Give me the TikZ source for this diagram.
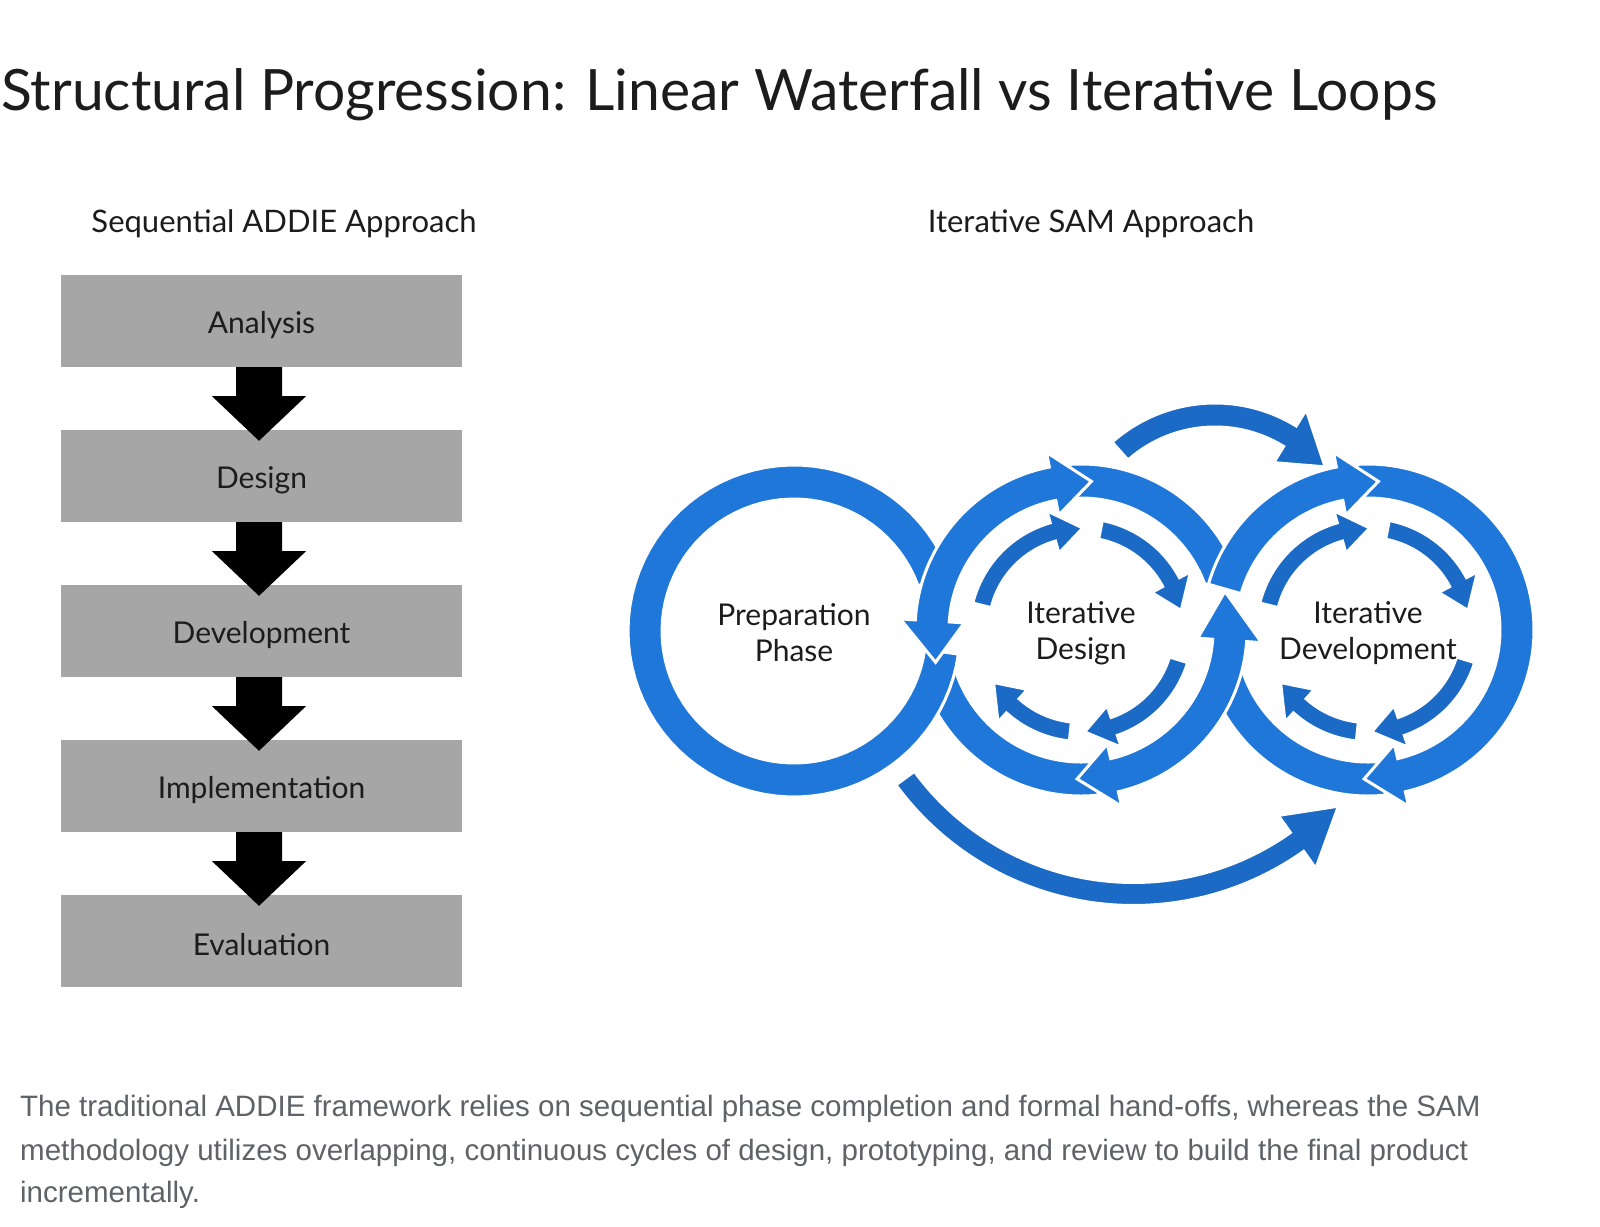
\documentclass[tikz,border=0pt]{standalone}
\usepackage{fontspec}
\setmainfont{Lato}
\newfontfamily\capfont{Liberation Sans}
\usetikzlibrary{calc}
\definecolor{ringblue}{RGB}{31,119,217}
\definecolor{darkblue}{RGB}{27,106,198}
\definecolor{boxgray}{RGB}{166,166,166}
\definecolor{capgray}{RGB}{95,99,104}
\definecolor{inkblack}{RGB}{28,28,30}
% #1 cx, #2 cy, #3 R, #4 half width, #5 t1, #6 t2, #7 start head offset, #8 end head offset, #9 style
\newcommand\RingSeg[9]{%
  \pgfmathsetmacro\hA{ifthenelse(#7>0,\HH,#4)}%
  \pgfmathsetmacro\hB{ifthenelse(#8>0,\HH,#4)}%
  \filldraw[#9] plot[domain=#5:#6,samples=80] ({#1+(#3+#4)*cos(\x)},{#2+(#3+#4)*sin(\x)})
   -- ({#1+(#3+\hB)*cos(#6)},{#2+(#3+\hB)*sin(#6)})
   -- ({#1+#3*cos(#6+#8)},{#2+#3*sin(#6+#8)})
   -- ({#1+(#3-\hB)*cos(#6)},{#2+(#3-\hB)*sin(#6)})
   -- plot[domain=#6:#5,samples=80] ({#1+(#3-#4)*cos(\x)},{#2+(#3-#4)*sin(\x)})
   -- ({#1+(#3-\hA)*cos(#5)},{#2+(#3-\hA)*sin(#5)})
   -- ({#1+#3*cos(#5-#7)},{#2+#3*sin(#5-#7)})
   -- ({#1+(#3+\hA)*cos(#5)},{#2+(#3+\hA)*sin(#5)})
   -- cycle;}
\tikzset{
  stepbox/.style={fill=boxgray, minimum width=401pt, minimum height=92pt, inner sep=0pt},
  boxtext/.style={text=inkblack, font=\fontsize{30}{36}\selectfont, inner sep=0pt},
  flowarrow/.style={fill=black},
  ringseg/.style={fill=ringblue, draw=white, line width=3pt, line join=miter},
  darkseg/.style={fill=darkblue, draw=white, line width=3pt, line join=miter},
  ringlabel/.style={align=center, text=inkblack, font=\fontsize{30}{36}\selectfont, inner sep=0pt},
  subtitle/.style={anchor=base, text=inkblack, font=\fontsize{31}{36}\selectfont, inner sep=0pt},
  captionline/.style={anchor=base west, text=capgray, font=\capfont\fontsize{29.5}{34}\selectfont, inner sep=0pt}
}
\begin{document}
\begin{tikzpicture}[x=1pt,y=-1pt]
\useasboundingbox (0,0) rectangle (1600,1226);
\fill[white] (0,0) rectangle (1600,1226);
% title
\node[anchor=base west, inner sep=0pt, text=inkblack, font=\fontsize{57}{62}\selectfont] (title) at (1,110) {Structural Progression: Linear Waterfall vs Iterative Loops};
% subtitles
\node[subtitle] (sub1) at (284,232) {Sequential ADDIE Approach};
\node[subtitle] (sub2) at (1091,232) {Iterative SAM Approach};
% ADDIE boxes
\node[stepbox] (an) at (261.5,321) {};
\node[stepbox] (de) at (261.5,476) {};
\node[stepbox] (dv) at (261.5,631) {};
\node[stepbox] (im) at (261.5,786) {};
\node[stepbox] (ev) at (261.5,941) {};
\node[boxtext] (tan) at ($(an.center)+(0,4)$) {Analysis};
\node[boxtext] (tde) at ($(de.center)+(0,4)$) {Design};
\node[boxtext] (tdv) at ($(dv.center)+(0,4)$) {Development};
\node[boxtext] (tim) at ($(im.center)+(0,4)$) {Implementation};
\node[boxtext] (tev) at ($(ev.center)+(0,4)$) {Evaluation};
\foreach \a/\b in {an/de,de/dv,dv/im,im/ev}{
  \fill[flowarrow] ($(\a.south)+(-25.5,0)$) -- ($(\a.south)+(20.5,0)$) -- ($(\a.south)+(20.5,29)$)
    -- ($(\a.south)+(44.5,29)$) -- ($(\b.north)+(-2.5,11)$) -- ($(\a.south)+(-49.5,29)$)
    -- ($(\a.south)+(-25.5,29)$) -- cycle;
}
% SAM rings
\def\HH{32}
\RingSeg{1081}{630}{149}{17}{84}{162}{0}{0}{ringseg}      % D bottom-left
\RingSeg{794}{631}{149}{17}{8}{340}{0}{0}{ringseg}        % preparation ring
\RingSeg{1081}{630}{149}{17}{266}{340}{0}{0}{ringseg}     % D top-right
\RingSeg{1368}{630}{149}{17}{84}{165}{0}{0}{ringseg}      % Dev bottom-left
\RingSeg{1368}{630}{149}{17}{266}{437}{0}{14.5}{ringseg}  % Dev right
\RingSeg{1368}{630}{149}{17}{196}{259}{0}{15}{ringseg}    % Dev top-left
\RingSeg{1081}{630}{149}{17}{183.5}{259}{16}{15}{ringseg} % D top-left
\RingSeg{1081}{630}{149}{17}{4}{77}{19}{14.5}{ringseg}    % D bottom-right
% inner cycles
\def\HH{22}
\foreach \c in {1081,1368}{
  \RingSeg{\c}{630}{102}{9.5}{194}{254}{0}{17}{darkseg}
  \RingSeg{\c}{630}{102}{9.5}{281}{332}{0}{17}{darkseg}
  \RingSeg{\c}{630}{102}{9.5}{17}{71}{0}{17}{darkseg}
  \RingSeg{\c}{630}{102}{9.5}{96}{132}{0}{17}{darkseg}
}
% top and bottom bypass arrows
\def\HH{31}
\RingSeg{1215}{558}{143}{12}{228.4}{301.6}{0}{18.8}{darkseg}
\def\HH{32.5}
\RingSeg{1133.5}{611}{283}{11.5}{54.7}{143.8}{11.1}{0}{darkseg}
% ring labels
\node[ringlabel] (prep) at (794,633) {Preparation\\Phase};
\node[ringlabel] (idesign) at (1081,633) {Iterative\\Design};
\node[ringlabel] (idev) at (1368,633) {Iterative\\Development};
% caption
\node[captionline] (cap1) at (20,1116) {The traditional ADDIE framework relies on sequential phase completion and formal hand-offs, whereas the SAM};
\node[captionline] (cap2) at (20,1160) {methodology utilizes overlapping, continuous cycles of design, prototyping, and review to build the final product};
\node[captionline] (cap3) at (20,1202) {incrementally.};
\end{tikzpicture}
\end{document}
